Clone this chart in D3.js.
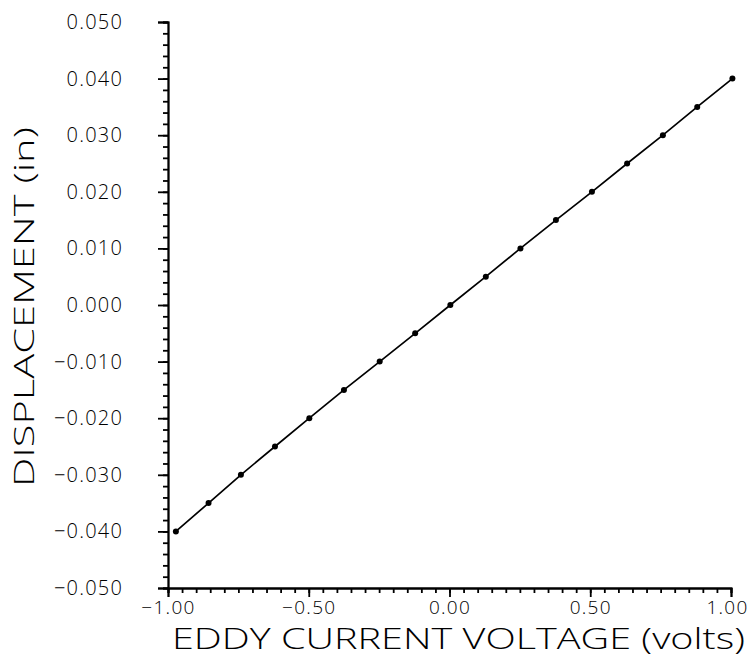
<!DOCTYPE html>
<html lang="en">
	<head>
		<meta charset="utf-8">
		<title>Displacement vs eddy current voltage</title>
		<script type="text/javascript" src="https://cdn.jsdelivr.net/npm/d3@7"></script>
		<style type="text/css">
			body { margin: 0; background: #fff; }
			text { font-family: "Open Sans", "DejaVu Sans", sans-serif; font-weight: 300; fill: #000; }
		</style>
	</head>
	<body>
		<script type="text/javascript">
			var w = 752;
			var h = 657;
			// calibration points
			var voltage = [ -0.972, -0.856, -0.741, -0.620, -0.498, -0.375, -0.248, -0.122, 0.003,
							0.129, 0.252, 0.378, 0.506, 0.631, 0.758, 0.880, 1.005 ];
			var displacement = [ -0.040, -0.035, -0.030, -0.025, -0.020, -0.015, -0.010, -0.005, 0.000,
							0.005, 0.010, 0.015, 0.020, 0.025, 0.030, 0.035, 0.040 ];
			var xTicks = [ -1.00, -0.50, 0.00, 0.50, 1.00 ];
			var yTicks = [ -0.050, -0.040, -0.030, -0.020, -0.010, 0.000, 0.010, 0.020, 0.030, 0.040, 0.050 ];

			var padLeft = 168, padRight = 731, padTop = 22, padBottom = 588;

			var xScale = d3.scaleLinear().domain([-1, 1]).range([padLeft, padRight]);
			var yScale = d3.scaleLinear().domain([-0.05, 0.05]).range([padBottom, padTop]);

			var svg = d3.select("body")
							.append("svg")
							.attr("width", w)
							.attr("height", h);

			function fmt(v, n) {
				if (Math.abs(v) < 1e-9) return (0).toFixed(n);
				var s = v.toFixed(n);
				if (s.charAt(0) == "-") s = "\u2212" + s.slice(1);
				return s;
			}

			//x axis: minor ticks, then major ticks with labels
			svg.append("g")
				.attr("transform", "translate(0," + padBottom + ")")
				.call(d3.axisBottom(xScale).ticks(40).tickSize(5).tickFormat(""))
				.call(function(g) { g.selectAll("text").remove(); });
			svg.append("g")
				.attr("transform", "translate(0," + padBottom + ")")
				.call(d3.axisBottom(xScale).tickValues(xTicks).tickSize(9).tickPadding(4)
					.tickFormat(function(d) { return fmt(d, 2); }))
				.call(function(g) {
					g.selectAll("text").attr("font-size", "19px")
						.attr("letter-spacing", "1.3px")
						.attr("dx", function(d) { return d == 1 ? -4 : 0; })
						.attr("font-family", null).attr("fill", null);
				});

			//y axis
			svg.append("g")
				.attr("transform", "translate(" + padLeft + ",0)")
				.call(d3.axisLeft(yScale).ticks(50).tickSize(5).tickFormat(""))
				.call(function(g) { g.selectAll("text").remove(); });
			svg.append("g")
				.attr("transform", "translate(" + padLeft + ",0)")
				.call(d3.axisLeft(yScale).tickValues(yTicks).tickSize(10).tickPadding(35)
					.tickFormat(function(d) { return fmt(d, 3); }))
				.call(function(g) {
					g.selectAll("text").attr("font-size", "20px")
						.attr("letter-spacing", "1.2px")
						.attr("font-family", null).attr("fill", null);
				});

			svg.selectAll(".domain, .tick line")
				.attr("stroke", "#000")
				.attr("stroke-width", 1.8);

			//line and points
			var points = voltage.map(function(v, i) { return [v, displacement[i]]; });
			svg.append("path")
				.datum(points)
				.attr("fill", "none")
				.attr("stroke", "#000")
				.attr("stroke-width", 1.7)
				.attr("d", d3.line()
					.x(function(d) { return xScale(d[0]); })
					.y(function(d) { return yScale(d[1]); }));
			svg.selectAll("circle")
				.data(points)
				.enter()
				.append("circle")
				.attr("cx", function(d) { return xScale(d[0]); })
				.attr("cy", function(d) { return yScale(d[1]); })
				.attr("r", 3)
				.attr("fill", "#000");

			//titles
			svg.append("text")
				.attr("x", 172)
				.attr("y", 649)
				.attr("font-size", "29px")
				.attr("textLength", 573)
				.attr("lengthAdjust", "spacingAndGlyphs")
				.text("EDDY CURRENT VOLTAGE  (volts)");
			svg.append("text")
				.attr("transform", "translate(34,307) rotate(-90)")
				.attr("text-anchor", "middle")
				.attr("font-size", "28px")
				.attr("textLength", 360)
				.attr("lengthAdjust", "spacingAndGlyphs")
				.text("DISPLACEMENT  (in)");
		</script>
	</body>
</html>
